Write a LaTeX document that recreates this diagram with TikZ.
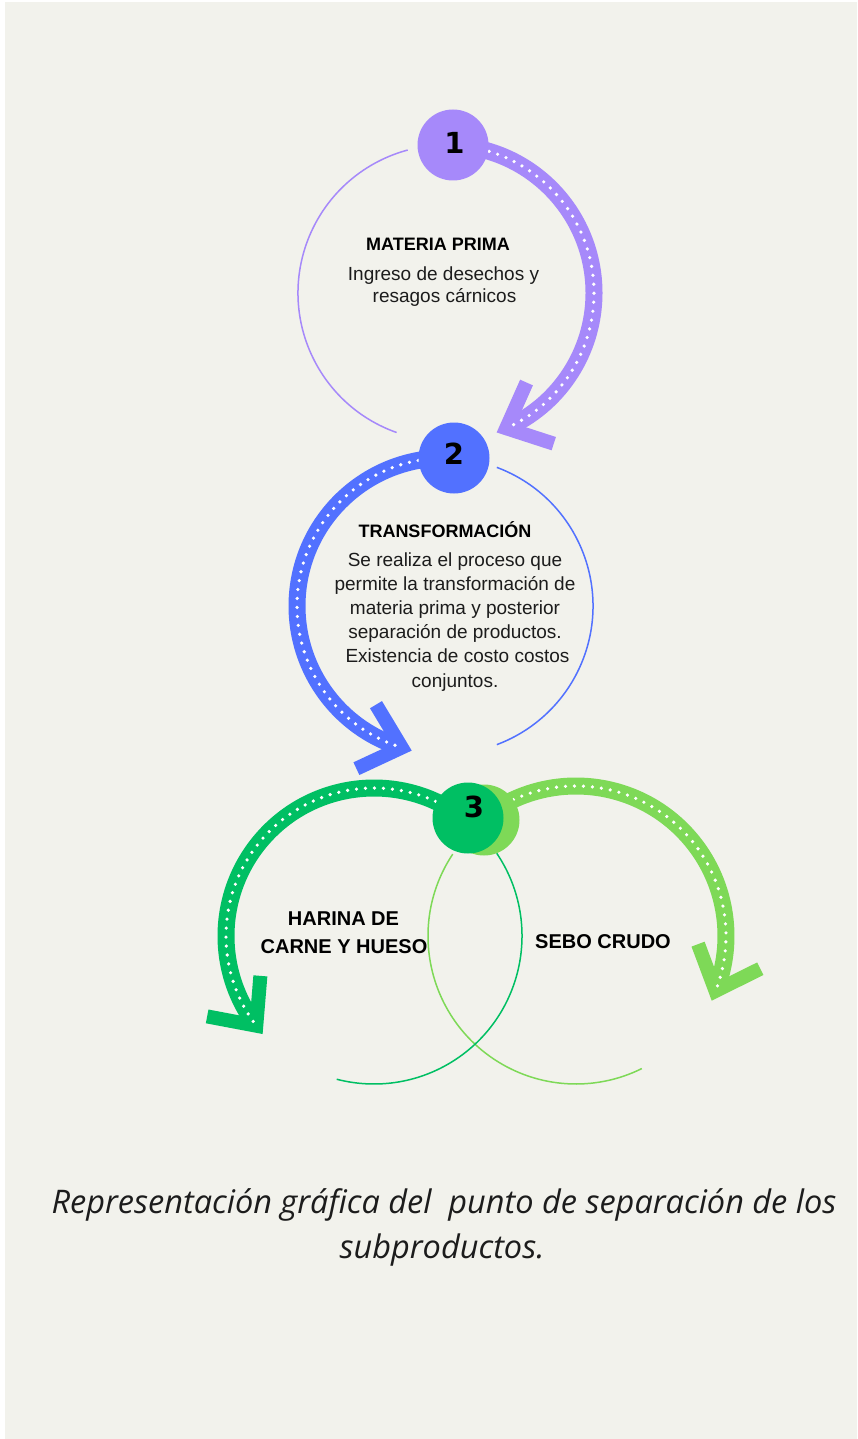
\documentclass[tikz,border=0pt]{standalone}
\usepackage{fontspec}
\setmainfont{Liberation Sans}
\newfontfamily\capfont{Open Sans}
\newfontfamily\digitfont{DejaVu Sans}
\usetikzlibrary{calc}
\definecolor{bgc}{RGB}{242,242,236}
\definecolor{cpurple}{RGB}{166,137,250}
\definecolor{cblue}{RGB}{82,113,255}
\definecolor{cdgreen}{RGB}{0,191,99}
\definecolor{clgreen}{RGB}{126,217,87}
\definecolor{ctext}{RGB}{28,28,28}
\begin{document}
\begin{tikzpicture}[x=1pt,y=-1pt,
  thinarc/.style={line width=1.5pt},
  band/.style={line width=17pt},
  dotline/.style={white, line width=3.6pt, line cap=round, dash pattern=on 0pt off 9pt},
  chev/.style={line width=14pt, line join=miter},
  numc/.style={circle, minimum size=71pt, inner sep=0pt},
  digit/.style={inner sep=0pt, font=\digitfont\bfseries\fontsize{29}{29}\selectfont},
  head/.style={anchor=base, inner sep=0pt, font=\bfseries\fontsize{18}{18}\selectfont},
  bighead/.style={anchor=base, inner sep=0pt, font=\bfseries\fontsize{20}{20}\selectfont},
  body/.style={anchor=base, inner sep=0pt, text=ctext, font=\fontsize{19}{19}\selectfont},
  captext/.style={anchor=base, inner sep=0pt, text=ctext, font=\capfont\itshape\fontsize{32.5}{32.5}\selectfont},
]
\fill[white] (0,0) rectangle (857,1439);
\fill[bgc] (5,2) rectangle (857,1439);
\useasboundingbox (0,0) rectangle (857,1439);

\coordinate (cA) at (446,293);
\coordinate (cB) at (445,606);
\coordinate (cC) at (374,936);
\coordinate (cD) at (576,936);

% thin arcs
\draw[thinarc, cpurple] (cA) ++(109.5:148) arc[start angle=109.5, end angle=255, radius=148];
\draw[thinarc, cblue] (cB) ++(-69.5:148) arc[start angle=-69.5, end angle=69.5, radius=148];
\draw[thinarc, clgreen] (cD) ++(213.6:148) arc[start angle=213.6, end angle=63.6, radius=148];
\draw[thinarc, cdgreen] (cC) ++(-34:148) arc[start angle=-34, end angle=104.6, radius=148];

% thick bands
\draw[band, cpurple] (cA) ++(-87:148) arc[start angle=-87, end angle=66, radius=148] coordinate (vA);
\draw[band, cblue] (cB) ++(273.5:148) arc[start angle=273.5, end angle=107, radius=148] coordinate (vB);
\draw[band, cdgreen] (cC) ++(-51.5:148) arc[start angle=-51.5, end angle=-217.3, radius=148] coordinate (vC);
\draw[band, clgreen] (cD) ++(-128.4:150) arc[start angle=-128.4, end angle=21.5, radius=150] coordinate (vD);

% chevrons
\draw[chev, cpurple] ($(vA)+(294:50)$) -- (vA) -- ($(vA)+(18:50)$);
\draw[chev, cblue] ($(vB)+(239:50)$) -- (vB) -- ($(vB)+(155:50)$);
\draw[chev, cdgreen] ($(vC)+(274.7:50)$) -- (vC) -- ($(vC)+(190.7:50)$);
\draw[chev, clgreen] ($(vD)+(333.5:50)$) -- (vD) -- ($(vD)+(249.5:50)$);

% dotted centre lines
\draw[dotline] (cA) ++(-87:148) arc[start angle=-87, end angle=66, radius=148];
\draw[dotline] (cB) ++(273.5:148) arc[start angle=273.5, end angle=107, radius=148];
\draw[dotline] (cC) ++(-51.5:148) arc[start angle=-51.5, end angle=-217.3, radius=148];
\draw[dotline] (cD) ++(-128.4:150) arc[start angle=-128.4, end angle=21.5, radius=150];

% numbered circles
\node[numc, fill=cpurple] (n1) at (453,145) {};
\node[numc, fill=cblue] (n2) at (454,458) {};
\node[numc, fill=clgreen] (n3b) at (484,820) {};
\node[numc, fill=cdgreen] (n3) at (468,818) {};
\node[digit] (d1) at (454.5,142.5) {1};
\node[digit] (d2) at (454,453.5) {2};
\node[digit] (d3) at (474,807) {3};

% texts
\node[head] (h1) at (438,251) {MATERIA PRIMA};
\node[body] (b11) at (443.5,280) {Ingreso de desechos y};
\node[body] (b12) at (444.5,302.5) {resagos cárnicos};

\node[head] (h2) at (445,537) {TRANSFORMACIÓN};
\node[body] (b21) at (455,566) {Se realiza el proceso que};
\node[body] (b22) at (455,590.2) {permite la transformación de};
\node[body] (b23) at (455,614.4) {materia prima y posterior};
\node[body] (b24) at (455,638.6) {separación de productos.};
\node[body] (b25) at (457.5,662.8) {Existencia de costo costos};
\node[body] (b26) at (455,687) {conjuntos.};

\node[bighead] (h31) at (343.5,925) {HARINA DE};
\node[bighead] (h32) at (344,953) {CARNE Y HUESO};
\node[bighead] (h4) at (603,948) {SEBO CRUDO};

\node[captext] (c1) at (444,1213) {Representación gráfica del\ \ punto de separación de los};
\node[captext] (c2) at (442,1258) {subproductos.};
\end{tikzpicture}
\end{document}
